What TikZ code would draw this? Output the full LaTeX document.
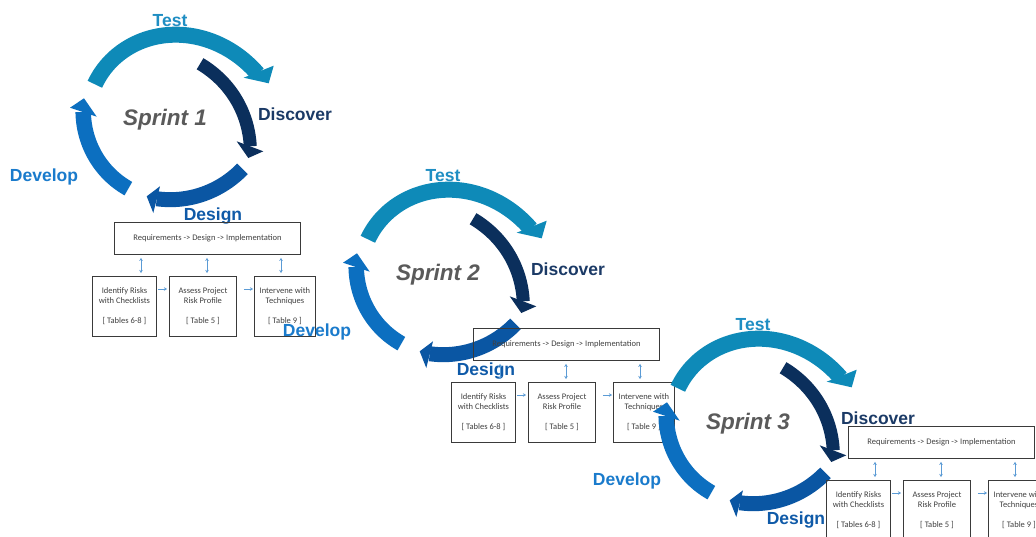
\documentclass[tikz,border=0pt]{standalone}
\usepackage{fontspec}
\usetikzlibrary{arrows.meta}
\newfontfamily\lblfont{Liberation Sans}
\newfontfamily\boxfont{Carlito}
\definecolor{testarc}{HTML}{0E8AB8}
\definecolor{discarc}{HTML}{0B2F5C}
\definecolor{desarc}{HTML}{0A56A3}
\definecolor{devarc}{HTML}{0C6FC0}
\definecolor{testlbl}{HTML}{1F8EC3}
\definecolor{disclbl}{HTML}{1B3A66}
\definecolor{deslbl}{HTML}{0F5AA8}
\definecolor{devlbl}{HTML}{1A7BCC}
\definecolor{sprintgray}{HTML}{5A5A5A}
\definecolor{boxline}{HTML}{3A3A3A}
\definecolor{boxtext}{HTML}{404040}
\definecolor{arrowblue}{HTML}{5B9BD5}
\tikzset{
  testband/.style={draw=testarc, line width=16pt},
  discband/.style={draw=discarc, line width=13pt},
  desband/.style={draw=desarc, line width=15pt},
  devband/.style={draw=devarc, line width=15.5pt},
  lbl/.style={font=\lblfont\bfseries\fontsize{17.5}{20}\selectfont, inner sep=0pt, anchor=base},
  sprintlbl/.style={font=\lblfont\bfseries\itshape\fontsize{22.5}{26}\selectfont, inner sep=0pt, anchor=base, text=sprintgray},
  rbox/.style={draw=boxline, line width=0.9pt, inner sep=0pt, anchor=north west, align=center,
    font=\boxfont\fontsize{8.5}{10}\selectfont, text=boxtext},
  varr/.style={draw=arrowblue, line width=0.8pt, {Stealth[length=3pt,width=3.5pt]}-{Stealth[length=3pt,width=3.5pt]}},
  harr/.style={draw=arrowblue, line width=0.8pt, -{Stealth[length=3pt,width=3.5pt]}}
}
\newcommand\sprintring[2]{%
  % Test: spiral from 204.75 to 333.8 degrees, head at the right
  \draw[testband] plot[variable=\t, domain=204.75:333.8, samples=70]
    ({(80.5+19.5*((\t-204.75)/129.05)^3)*cos(\t)}, {(80.5+19.5*((\t-204.75)/129.05)^3)*sin(\t)});
  \fill[testarc] (75.7,-40.3) -- (105.7,-52.3) -- (100.7,-34.7) -- cycle;
  % Discover
  \draw[discband] plot[variable=\t, domain=-59.4:19, samples=60]
    ({(63+24*((\t+59.4)/78.4)^2)*cos(\t)}, {(63+24*((\t+59.4)/78.4)^2)*sin(\t)});
  \fill[discarc] (68.7,23.3) -- (95.3,33.3) -- (80.3,40) -- cycle;
  % Design
  \draw[desband] plot[variable=\t, domain=34.3:97.9, samples=60]
    ({(81.5+8.7*(1-(\t-34.3)/63.6)^2)*cos(\t)}, {(81.5+8.7*(1-(\t-34.3)/63.6)^2)*sin(\t)});
  \fill[desarc] (-8,68.3) -- (-14.7,95) -- (-21.3,78.3) -- cycle;
  % Develop
  \draw[devband] plot[variable=\t, domain=119.3:184, samples=60]
    ({(81+4*((\t-119.3)/64.7)^2)*cos(\t)}, {(81+4*((\t-119.3)/64.7)^2)*sin(\t)});
  \fill[devarc] (-71.3,-1.3) -- (-98,-10.3) -- (-84,-19.7) -- cycle;
  \node[lbl,text=testlbl] (#1test) at (2,-92) {Test};
  \node[lbl,text=disclbl] (#1disc) at (127,2) {Discover};
  \node[lbl,text=devlbl] (#1dev) at (-124,63) {Develop};
  \node[lbl,text=deslbl] (#1des) at (45,102.5) {Design};
  \node[sprintlbl] (#1name) at (-3,7.5) {Sprint #2};
}
\newcommand\riskboxes[1]{%
  \node[rbox,minimum width=186pt,minimum height=32pt] (#1req) at (0,0) {Requirements -> Design -> Implementation};
  \node[rbox,minimum width=64pt,minimum height=60pt] (#1id) at (-22,54) {Identify Risks\\with Checklists\\[10pt]{[}~Tables 6-8~{]}};
  \node[rbox,minimum width=67pt,minimum height=60pt] (#1as) at (55,54) {Assess Project\\Risk Profile\\[10pt]{[}~Table 5~{]}};
  \node[rbox,minimum width=61pt,minimum height=60pt] (#1iv) at (140,54) {Intervene with\\Techniques\\[10pt]{[}~Table 9~{]}};
  \draw[varr] ([xshift=27pt,yshift=-3pt]#1req.south west) -- ([xshift=49pt,yshift=3pt]#1id.north west);
  \draw[varr] ([xshift=93pt,yshift=-3pt]#1req.south west) -- ([xshift=38pt,yshift=3pt]#1as.north west);
  \draw[varr] ([xshift=167pt,yshift=-3pt]#1req.south west) -- ([xshift=27pt,yshift=3pt]#1iv.north west);
  \draw[harr] ([xshift=1.5pt,yshift=-13pt]#1id.north east) -- ([xshift=-2pt,yshift=-13pt]#1as.north west);
  \draw[harr] ([xshift=7pt,yshift=-13pt]#1as.north east) -- ([xshift=-1pt,yshift=-13pt]#1iv.north west);
}
\begin{document}
\begin{tikzpicture}[x=1pt,y=-1pt]
\useasboundingbox (0,0) rectangle (1036,536);
\fill[white] (0,0) rectangle (1036,536);
\clip (0,0) rectangle (1036,536);
\begin{scope}[shift={(168,118)}] \sprintring{a}{1} \end{scope}
\begin{scope}[shift={(114,222)}] \riskboxes{a} \end{scope}
\begin{scope}[shift={(441,273)}] \sprintring{b}{2} \end{scope}
\begin{scope}[shift={(473,328)}] \riskboxes{b} \end{scope}
\begin{scope}[shift={(751,422)}] \sprintring{c}{3} \end{scope}
\begin{scope}[shift={(848,426)}] \riskboxes{c} \end{scope}
\end{tikzpicture}
\end{document}
